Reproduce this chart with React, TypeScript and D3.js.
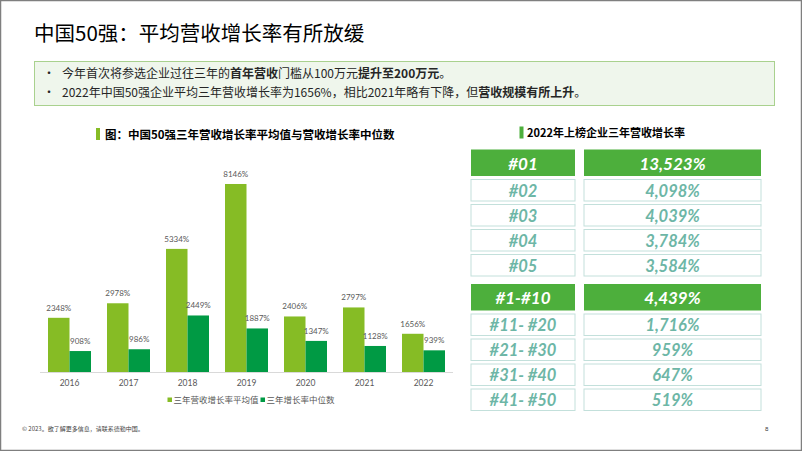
import React from "react";
import * as d3 from "d3";

// chart data
const years = ["2016", "2017", "2018", "2019", "2020", "2021", "2022"];
const avgGrowth = [2348, 2978, 5334, 8146, 2406, 2797, 1656];
const medianGrowth = [908, 986, 2449, 1887, 1347, 1128, 939];
const seriesNames = ["三年营收增长率平均值", "三年增长率中位数"];

// table data
const topRanks = ["#01", "#02", "#03", "#04", "#05"];
const topRates = ["13,523%", "4,098%", "4,039%", "3,784%", "3,584%"];
const groupRanks = ["#1-#10", "#11- #20", "#21- #30", "#31- #40", "#41- #50"];
const groupRates = ["4,439%", "1,716%", "959%", "647%", "519%"];

const W = 802;
const H = 451;
const LIGHT = "#86BC25";
const DARK = "#009A44";
const TABLE_GREEN = "#4DAF3C";
const TEAL_TEXT = "#6DB6A6";
const TEAL_BORDER = "#C3E0DB";
const CJK = "'Noto Sans CJK SC', sans-serif";
const NUM = "Lato, 'Noto Sans CJK SC', sans-serif";

const BarChart = () => {
    const baseY = 372;
    const x = d3.scaleBand().domain(years).range([40, 453]).padding(0);
    const inner = d3
        .scaleBand()
        .domain(["avg", "med"])
        .range([(x.bandwidth() - 43) / 2, (x.bandwidth() + 43) / 2]);
    const y = d3.scaleLinear().domain([0, 9000]).range([baseY, baseY - 9000 * 0.02308]);

    const series = [
        { key: "avg", values: avgGrowth, color: LIGHT },
        { key: "med", values: medianGrowth, color: DARK },
    ];

    return (
        <g>
            {series.map((s) =>
                s.values.map((v, i) => {
                    const bx = (x(years[i]) || 0) + (inner(s.key) || 0);
                    const bw = inner.bandwidth();
                    return (
                        <g key={s.key + i}>
                            <rect x={bx} y={y(v)} width={bw} height={baseY - y(v)} fill={s.color} />
                            <text
                                x={bx + bw / 2}
                                y={y(v) - 7}
                                textAnchor="middle"
                                fontSize={8}
                                fill="#595959"
                                fontFamily={NUM}
                            >
                                {v}%
                            </text>
                        </g>
                    );
                })
            )}
            <line x1={40} x2={453} y1={baseY + 0.5} y2={baseY + 0.5} stroke="#d9d9d9" strokeWidth={1} />
            {years.map((yr) => (
                <text
                    key={yr}
                    x={(x(yr) || 0) + x.bandwidth() / 2}
                    y={386}
                    textAnchor="middle"
                    fontSize={8.5}
                    fill="#595959"
                    fontFamily={NUM}
                >
                    {yr}
                </text>
            ))}
            {/* legend */}
            <rect x={167.5} y={397.5} width={4.5} height={4.5} fill={LIGHT} />
            <text x={173.5} y={403} fontSize={8.5} fill="#595959" fontFamily={CJK}>
                {seriesNames[0]}
            </text>
            <rect x={260.5} y={397.5} width={4.5} height={4.5} fill={DARK} />
            <text x={266.5} y={403} fontSize={8.5} fill="#595959" fontFamily={CJK}>
                {seriesNames[1]}
            </text>
        </g>
    );
};

const RankTable = () => {
    const leftX = 471;
    const leftW = 104;
    const rightX = 584;
    const rightW = 177;

    const block = (ranks: string[], rates: string[], top: number) => {
        // first row is filled and taller, others are outlined
        const rowY = (i: number) => (i === 0 ? top : top + 30 + (i - 1) * 25);
        const rowH = (i: number) => (i === 0 ? 26.5 : 21.5);
        return ranks.map((r, i) => {
            const filled = i === 0;
            const yy = rowY(i);
            const hh = rowH(i);
            const txt = {
                fontSize: filled ? 17 : 16.5,
                fontWeight: 700,
                fontStyle: "italic",
                fontFamily: NUM,
                fill: filled ? "#ffffff" : TEAL_TEXT,
                textAnchor: "middle" as const,
                dominantBaseline: "central" as const,
            };
            return (
                <g key={r}>
                    <rect
                        x={leftX}
                        y={yy}
                        width={leftW}
                        height={hh}
                        fill={filled ? TABLE_GREEN : "#ffffff"}
                        stroke={filled ? "none" : TEAL_BORDER}
                        strokeWidth={1}
                    />
                    <rect
                        x={rightX}
                        y={yy}
                        width={rightW}
                        height={hh}
                        fill={filled ? TABLE_GREEN : "#ffffff"}
                        stroke={filled ? "none" : TEAL_BORDER}
                        strokeWidth={1}
                    />
                    <text x={leftX + leftW / 2} y={yy + hh / 2 + 0.5} {...txt}>
                        {r}
                    </text>
                    <text x={rightX + rightW / 2} y={yy + hh / 2 + 0.5} {...txt}>
                        {rates[i]}
                    </text>
                </g>
            );
        });
    };

    return (
        <g>
            <rect x={519.5} y={126.5} width={4} height={12} fill={TABLE_GREEN} />
            <text x={527} y={137} fontSize={11} fontWeight={700} fill="#000" fontFamily={CJK}>
                2022年上榜企业三年营收增长率
            </text>
            {block(topRanks, topRates, 149.5)}
            {block(groupRanks, groupRates, 284)}
        </g>
    );
};

const App = () => {
    return (
        <div style={{ position: "fixed", left: 0, top: 0 }}>
            <svg width={W} height={H} style={{ display: "block", background: "#fff" }}>
                <rect x={0.5} y={0.5} width={W - 1} height={H - 1} fill="#fff" stroke="#7f7f7f" strokeWidth={1.5} />
                <text x={34} y={41} fontSize={20.5} fill="#000" fontFamily={CJK}>
                    中国50强：平均营收增长率有所放缓
                </text>

                {/* summary box */}
                <rect x={34.5} y={61.5} width={740} height={44} fill="#EFF6EC" stroke="#A9D18E" strokeWidth={1} />
                <text x={43} y={78} fontSize={12} fill="#262626" fontFamily={CJK}>•</text>
                <text x={62} y={78} fontSize={12} fill="#262626" fontFamily={CJK}>
                    今年首次将参选企业过往三年的<tspan fontWeight={700}>首年营收</tspan>门槛从100万元
                    <tspan fontWeight={700}>提升至200万元</tspan>。
                </text>
                <text x={43} y={97} fontSize={12} fill="#262626" fontFamily={CJK}>•</text>
                <text x={62} y={97} fontSize={12} fill="#262626" fontFamily={CJK}>
                    2022年中国50强企业平均三年营收增长率为1656%，相比2021年略有下降，但
                    <tspan fontWeight={700}>营收规模有所上升</tspan>。
                </text>

                {/* chart title */}
                <rect x={96} y={128} width={4} height={12} fill={LIGHT} />
                <text x={105} y={139} fontSize={11.5} fontWeight={700} fill="#000" fontFamily={CJK}>
                    图：中国50强三年营收增长率平均值与营收增长率中位数
                </text>

                <BarChart />
                <RankTable />

                <text x={22} y={431} fontSize={6} fill="#404040" fontFamily={CJK}>
                    © 2023。欲了解更多信息，请联系德勤中国。
                </text>
                <text x={765} y={431} fontSize={6} fill="#404040" fontFamily={NUM}>
                    8
                </text>
            </svg>
        </div>
    );
};

export default App;
